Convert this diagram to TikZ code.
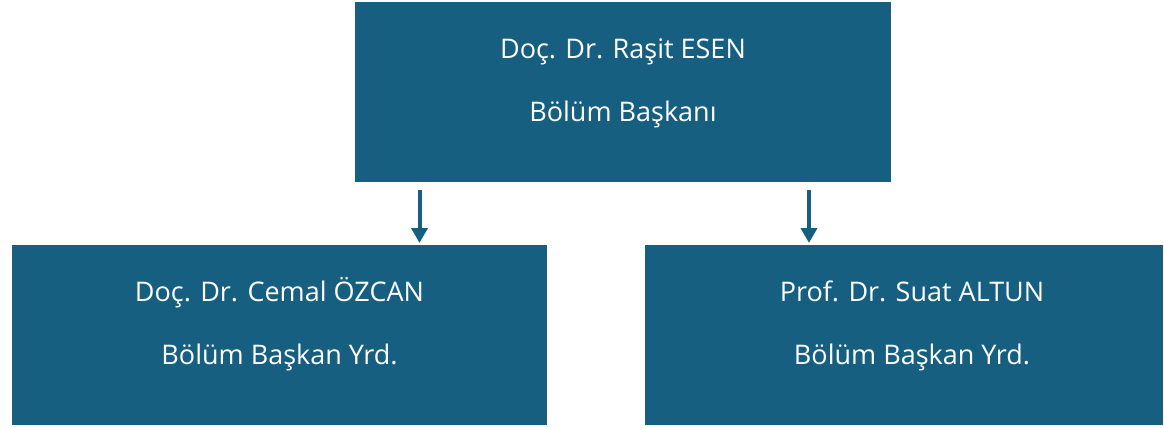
\documentclass[tikz,border=0pt]{standalone}
\usepackage{fontspec}
\setmainfont{Open Sans}
\usetikzlibrary{arrows.meta}
\definecolor{boxblue}{HTML}{165F81}
\newcommand{\lineone}[1]{\vphantom{Ö}#1}
\tikzset{
  orgbox/.style={text=white, align=center,
    font=\fontsize{27}{63}\selectfont, inner sep=0pt},
  conn/.style={draw=boxblue, line width=4pt, -{Triangle[length=15pt,width=16pt]}}
}
\begin{document}
\begin{tikzpicture}[x=1pt,y=-1pt]
\useasboundingbox (0,0) rectangle (1164,428);
\fill[boxblue] (355,2) rectangle (891,182);
\node[orgbox] (top) at (623,81.5) {\lineone{Doç. Dr. Raşit ESEN}\\Bölüm Başkanı};
\fill[boxblue] (12,245) rectangle (547,425);
\node[orgbox] (left) at (279.5,324) {\lineone{Doç. Dr. Cemal ÖZCAN}\\Bölüm Başkan Yrd.};
\fill[boxblue] (645,245) rectangle (1163,425);
\node[orgbox] (right) at (912,324) {\lineone{Prof. Dr. Suat ALTUN}\\Bölüm Başkan Yrd.};
\coordinate (a1) at (419.5,190);
\coordinate (a1e) at (419.5,243);
\coordinate (a2) at (809,190);
\coordinate (a2e) at (809,243);
\draw[conn] (a1) -- (a1e);
\draw[conn] (a2) -- (a2e);
\end{tikzpicture}
\end{document}
